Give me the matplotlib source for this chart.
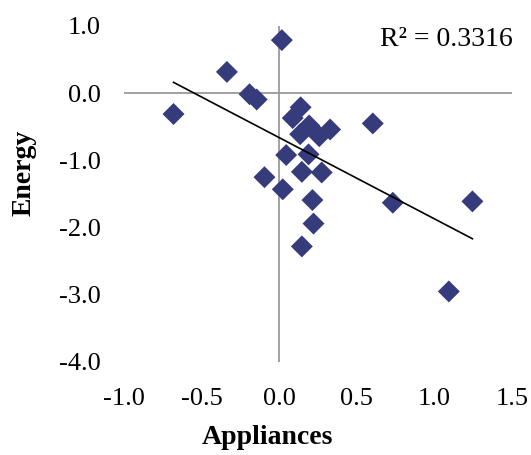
import numpy as np
import matplotlib
matplotlib.use("Agg")
import matplotlib.pyplot as plt

# Standardised scores per observation
appliances = [0.138, 0.087, 0.193, 0.328, 0.135, 0.258, 0.045, 0.189,
              0.146, 0.274, -0.095, 0.023, 0.214, 0.221, 0.146, 0.017,
              -0.337, -0.191, -0.145, -0.681, 0.603, 0.732, 1.245, 1.093]
energy = [-0.21, -0.37, -0.48, -0.54, -0.61, -0.64, -0.92, -0.91,
          -1.17, -1.18, -1.25, -1.43, -1.59, -1.94, -2.28, 0.79,
          0.317, -0.015, -0.094, -0.31, -0.45, -1.63, -1.61, -2.95]

x_ticks = [-1.0, -0.5, 0.0, 0.5, 1.0, 1.5]
y_ticks = [-4.0, -3.0, -2.0, -1.0, 0.0, 1.0]
r2_label = "R² = 0.3316"

plt.rcParams["font.family"] = ["Liberation Serif", "DejaVu Serif"]
plt.rcParams["axes.unicode_minus"] = False

W, H = 531, 455
fig = plt.figure(figsize=(W / 100, H / 100), dpi=100)
ax = fig.add_axes([124 / W, 1 - 362 / H, (512 - 124) / W, (362 - 26) / H])

ax.set_xlim(-1.0, 1.5)
ax.set_ylim(-4.0, 1.0)

for s in ax.spines.values():
    s.set_visible(False)

ax.axhline(0, color="#9a9a9a", lw=1.3, zorder=1)
ax.axvline(0, color="#9a9a9a", lw=1.3, zorder=1)

ax.scatter(appliances, energy, marker="D", s=125, color="#363b7c",
           edgecolors="none", zorder=3)

# linear trend line over the data range
xs = np.array(appliances)
ys = np.array(energy)
slope, intercept = np.polyfit(xs, ys, 1)
xl = np.array([xs.min(), xs.max()])
ax.plot(xl, slope * xl + intercept, color="black", lw=1.2, zorder=4)

ax.set_xticks(x_ticks)
ax.set_yticks(y_ticks)
ax.set_xticklabels([f"{v:.1f}" for v in x_ticks])
ax.set_yticklabels([f"{v:.1f}" for v in y_ticks])
ax.tick_params(axis="both", length=0, labelsize=19)
ax.tick_params(axis="x", pad=19)
ax.tick_params(axis="y", pad=17)

fig.text(267 / W, 1 - 438 / H, "Appliances", ha="center", va="center",
         fontsize=20, fontweight="bold")
fig.text(24 / W, 1 - 173 / H, "Energy", ha="center", va="center",
         rotation=90, fontsize=20, fontweight="bold")
fig.text(446 / W, 1 - 39 / H, r2_label, ha="center", va="center", fontsize=20)

fig.savefig("out.png", dpi=100)
